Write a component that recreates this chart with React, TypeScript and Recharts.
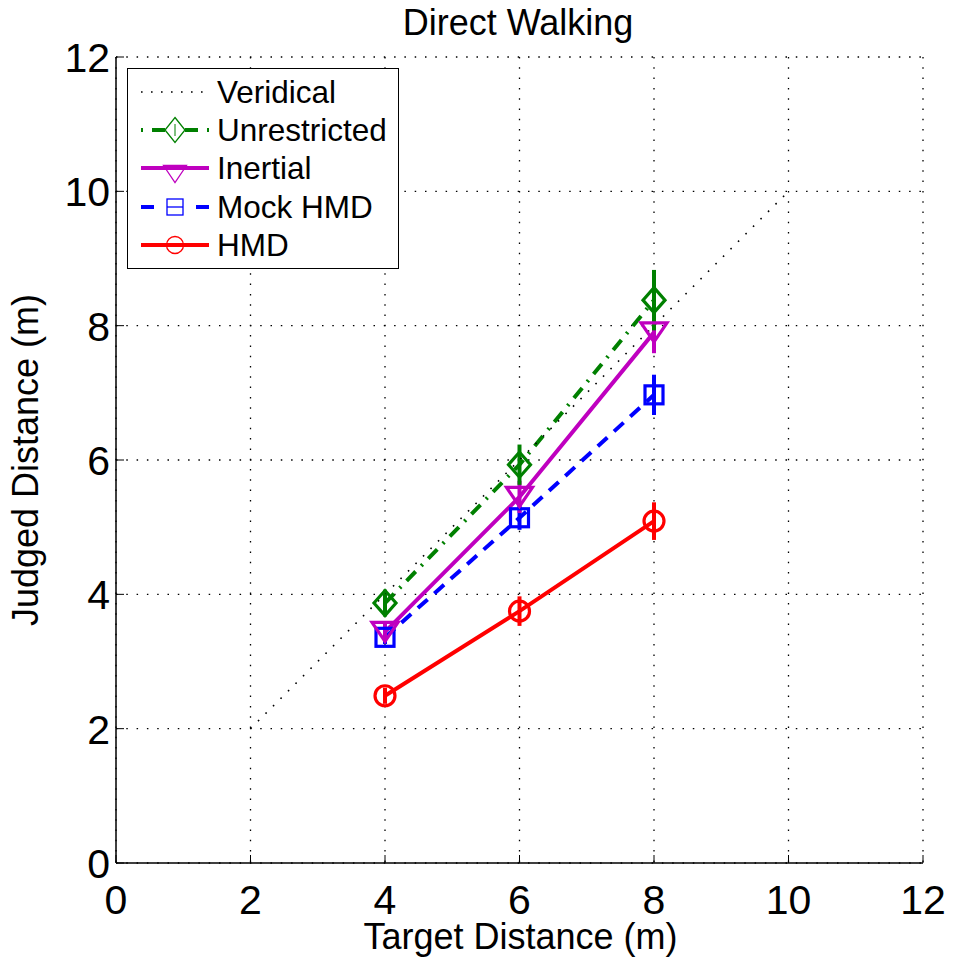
import React from 'react';
import { LineChart, Line, XAxis, YAxis, CartesianGrid, ErrorBar, Legend, Label } from 'recharts';

const FONT = '"Liberation Sans", Arial, Helvetica, sans-serif';

const chartTitle = 'Direct Walking';
const xAxisTitle = 'Target Distance (m)';
const yAxisTitle = 'Judged Distance (m)';

const targetDistances = [4, 6, 8];
const unrestrictedMeans = [3.87, 5.93, 8.38];
const unrestrictedErrors = [0.2, 0.3, 0.45];
const inertialMeans = [3.44, 5.45, 7.9];
const inertialErrors = [0.12, 0.24, 0.31];
const mockHmdMeans = [3.36, 5.14, 6.97];
const mockHmdErrors = [0.1, 0.18, 0.3];
const hmdMeans = [2.49, 3.75, 5.09];
const hmdErrors = [0.12, 0.22, 0.28];
const veridicalX = [2, 10];
const axisTicks = [0, 2, 4, 6, 8, 10, 12];
const legendLabels = ['Veridical', 'Unrestricted', 'Inertial', 'Mock HMD', 'HMD'];

const GREEN = '#008000';
const MAGENTA = '#BF00BF';
const BLUE = '#0000FF';
const RED = '#FF0000';

const toRows = (means: number[], errs: number[]) =>
  targetDistances.map((x, i) => ({ x, y: means[i], err: errs[i] }));

const unrestrictedRows = toRows(unrestrictedMeans, unrestrictedErrors);
const inertialRows = toRows(inertialMeans, inertialErrors);
const mockHmdRows = toRows(mockHmdMeans, mockHmdErrors);
const hmdRows = toRows(hmdMeans, hmdErrors);
const veridicalRows = veridicalX.map((x) => ({ x, y: x }));

type Shape = 'diamond' | 'triangle' | 'square' | 'circle';

function markerPath(shape: Shape, cx: number, cy: number, big: boolean, color: string, sw: number, key?: string) {
  if (shape === 'diamond') {
    const hw = big ? 11 : 10;
    const hh = 12.5;
    return (
      <path key={key} d={`M${cx},${cy - hh}L${cx + hw},${cy}L${cx},${cy + hh}L${cx - hw},${cy}Z`} fill="none" stroke={color} strokeWidth={sw} />
    );
  }
  if (shape === 'triangle') {
    const hw = big ? 13 : 11.5;
    const hh = big ? 9.5 : 8.5;
    return (
      <path key={key} d={`M${cx - hw},${cy - hh}L${cx + hw},${cy - hh}L${cx},${cy + hh}Z`} fill="none" stroke={color} strokeWidth={sw} strokeLinejoin="miter" />
    );
  }
  if (shape === 'square') {
    const h = big ? 9 : 8;
    return <rect key={key} x={cx - h} y={cy - h} width={2 * h} height={2 * h} fill="none" stroke={color} strokeWidth={sw} />;
  }
  const r = big ? 10 : 8.5;
  return <circle key={key} cx={cx} cy={cy} r={r} fill="none" stroke={color} strokeWidth={sw} />;
}

const makeDot = (shape: Shape, color: string, name: string) => (props: any) => {
  const { cx, cy, index } = props;
  const key = `${name}-${index}`;
  if (cx == null || cy == null || isNaN(cx) || isNaN(cy)) return <g key={key} />;
  return markerPath(shape, cx, cy, true, color, 3.2, key);
};

const XTick = (props: any) => {
  const { x, y, payload } = props;
  return (
    <g>
      <line x1={x} y1={y} x2={x} y2={y - 8} stroke="#000" strokeWidth={1} />
      <text x={x} y={y + 51} textAnchor="middle" fontSize={41} fontFamily={FONT} fill="#000">
        {payload.value}
      </text>
    </g>
  );
};

const YTick = (props: any) => {
  const { x, y, payload } = props;
  return (
    <g>
      <line x1={x} y1={y} x2={x + 8} y2={y} stroke="#000" strokeWidth={1} />
      <text x={x - 6} y={y + 15} textAnchor="end" fontSize={41} fontFamily={FONT} fill="#000">
        {payload.value}
      </text>
    </g>
  );
};

const LegendBox = () => {
  const rows = [24, 62, 100, 139, 177];
  const lx0 = 14;
  const lx1 = 82;
  const mx = 48;
  const tx = 90;
  return (
    <svg width={272} height={202} style={{ display: 'block' }}>
      <rect x={0.5} y={0.5} width={271} height={200} fill="#fff" stroke="#000" strokeWidth={1} />
      <line x1={lx0} y1={rows[0]} x2={lx1} y2={rows[0]} stroke="#000" strokeWidth={1.6} strokeDasharray="1.6 8.4" />
      <line x1={lx0} y1={rows[1]} x2={lx1} y2={rows[1]} stroke={GREEN} strokeWidth={4} strokeDasharray="2 9 13 20 13 9 2" />
      <line x1={mx} y1={rows[1] - 6} x2={mx} y2={rows[1] + 6} stroke={GREEN} strokeWidth={1} />
      {markerPath('diamond', mx, rows[1], false, GREEN, 1.3)}
      <line x1={lx0} y1={rows[2]} x2={lx1} y2={rows[2]} stroke={MAGENTA} strokeWidth={4} />
      {markerPath('triangle', mx, rows[2] + 6, false, MAGENTA, 1.3)}
      <line x1={lx0} y1={rows[3]} x2={lx1} y2={rows[3]} stroke={BLUE} strokeWidth={4} strokeDasharray="13 42 13" />
      <line x1={mx - 8} y1={rows[3]} x2={mx + 8} y2={rows[3]} stroke={BLUE} strokeWidth={1.3} />
      {markerPath('square', mx, rows[3], false, BLUE, 1.3)}
      <line x1={lx0} y1={rows[4]} x2={lx1} y2={rows[4]} stroke={RED} strokeWidth={4} />
      {markerPath('circle', mx, rows[4], false, RED, 1.3)}
      {legendLabels.map((t, i) => (
        <text key={t} x={tx} y={rows[i] + 11} fontSize={31.5} fontFamily={FONT} fill="#000">
          {t}
        </text>
      ))}
    </svg>
  );
};

export default function App() {
  return (
    <div style={{ position: 'absolute', left: 0, top: 0, width: 953, height: 958, background: '#fff' }}>
      <LineChart width={953} height={958} margin={{ top: 57, right: 30, bottom: 0, left: 0 }}>
        <CartesianGrid stroke="#000" strokeWidth={1.3} strokeDasharray="1.5 8.8" />
        <XAxis
          dataKey="x"
          type="number"
          domain={[0, 12]}
          ticks={axisTicks}
          interval={0}
          height={95}
          tickSize={0}
          tickMargin={0}
          tickLine={false}
          axisLine={{ stroke: '#000', strokeWidth: 1.5 }}
          tick={<XTick />}
          allowDataOverflow
        >
          <Label
            content={(p: any) => {
              const vb = p.viewBox;
              return (
                <text x={vb.x + vb.width / 2 + 1} y={vb.y + 86} textAnchor="middle" fontSize={36} fontFamily={FONT} fill="#000">
                  {xAxisTitle}
                </text>
              );
            }}
          />
        </XAxis>
        <YAxis
          type="number"
          domain={[0, 12]}
          ticks={axisTicks}
          interval={0}
          width={116}
          tickSize={0}
          tickMargin={0}
          tickLine={false}
          axisLine={{ stroke: '#000', strokeWidth: 1.5 }}
          tick={<YTick />}
          allowDataOverflow
        >
          <Label
            content={(p: any) => {
              const vb = p.viewBox;
              const cx = vb.x + 38;
              const cy = vb.y + vb.height / 2;
              return (
                <text x={cx} y={cy} textAnchor="middle" fontSize={36} fontFamily={FONT} fill="#000" transform={`rotate(-90, ${cx}, ${cy})`}>
                  {yAxisTitle}
                </text>
              );
            }}
          />
        </YAxis>
        <Legend
          layout="vertical"
          align="center"
          verticalAlign="middle"
          content={() => <LegendBox />}
          wrapperStyle={{ position: 'absolute', left: 127, top: 68, width: 272, height: 202 }}
        />
        <Line data={mockHmdRows} dataKey="y" name="Mock HMD" stroke={BLUE} strokeWidth={4} strokeDasharray="13 9" dot={makeDot('square', BLUE, 'mock')} activeDot={false} isAnimationActive={false}>
          <ErrorBar dataKey="err" width={0} strokeWidth={4} stroke={BLUE} direction="y" isAnimationActive={false} />
        </Line>
        <Line data={hmdRows} dataKey="y" name="HMD" stroke={RED} strokeWidth={4} dot={makeDot('circle', RED, 'hmd')} activeDot={false} isAnimationActive={false}>
          <ErrorBar dataKey="err" width={0} strokeWidth={4} stroke={RED} direction="y" isAnimationActive={false} />
        </Line>
        <Line data={inertialRows} dataKey="y" name="Inertial" stroke={MAGENTA} strokeWidth={4} dot={makeDot('triangle', MAGENTA, 'inertial')} activeDot={false} isAnimationActive={false}>
          <ErrorBar dataKey="err" width={0} strokeWidth={4} stroke={MAGENTA} direction="y" isAnimationActive={false} />
        </Line>
        <Line data={unrestrictedRows} dataKey="y" name="Unrestricted" stroke={GREEN} strokeWidth={4} strokeDasharray="13 8 2 8" dot={makeDot('diamond', GREEN, 'unres')} activeDot={false} isAnimationActive={false}>
          <ErrorBar dataKey="err" width={0} strokeWidth={4} stroke={GREEN} direction="y" isAnimationActive={false} />
        </Line>
        <Line data={veridicalRows} dataKey="y" name="Veridical" stroke="#000" strokeWidth={1.6} strokeDasharray="1.6 9" dot={false} activeDot={false} isAnimationActive={false} />
      </LineChart>
      <svg width={953} height={50} style={{ position: 'absolute', left: 0, top: 0, pointerEvents: 'none' }}>
        <text x={518} y={35} textAnchor="middle" fontSize={36} fontFamily={FONT} fill="#000">
          {chartTitle}
        </text>
      </svg>
    </div>
  );
}
